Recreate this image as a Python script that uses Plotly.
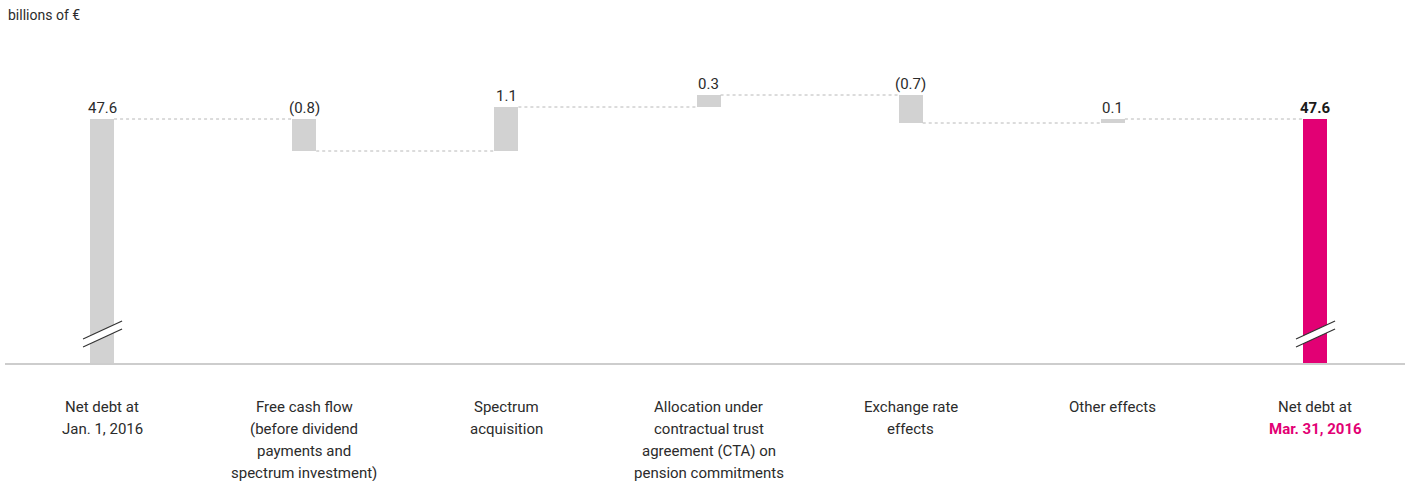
import plotly.graph_objects as go

# --- data -----------------------------------------------------------------
categories = [
    "Net debt at<br>Jan. 1, 2016",
    "Free cash flow<br>(before dividend<br>payments and<br>spectrum investment)",
    "Spectrum<br>acquisition",
    "Allocation under<br>contractual trust<br>agreement (CTA) on<br>pension commitments",
    "Exchange rate<br>effects",
    "Other effects",
    "Net debt at<br><b><span style='color:#e20074'>Mar. 31, 2016</span></b>",
]
values = [47.6, -0.8, 1.1, 0.3, -0.7, 0.1, 47.6]
measures = ["total", "relative", "relative", "relative", "relative", "relative", "total"]
value_labels = ["47.6", "(0.8)", "1.1", "0.3", "(0.7)", "0.1", "<b>47.6</b>"]
unit_label = "billions of €"

# --- styling --------------------------------------------------------------
GREY = "#d2d2d2"
MAGENTA = "#e20074"
TEXT = "#2b2b2b"
FONT = "Roboto"
BAR_W = 0.119
Y_FLOOR, Y_TOP = 41.5, 49.5

# running totals for the floating bars
bases, lows, highs, ends = [], [], [], []
running = 0.0
for v, m in zip(values, measures):
    if m == "total":
        base = 0.0
        running = v
    else:
        base = running
        running = running + v
    bases.append(base)
    lows.append(min(base, base + v))
    highs.append(max(base, base + v))
    ends.append(running)

x = list(range(len(values)))
colors = [MAGENTA if i == len(values) - 1 else GREY for i in x]

fig = go.Figure()
fig.add_trace(go.Bar(
    x=x, y=values, base=bases, width=BAR_W,
    marker=dict(color=colors, line=dict(width=0)),
    hoverinfo="skip", showlegend=False,
))

shapes = []
# dashed connectors between consecutive bars
for i in range(len(values) - 1):
    shapes.append(dict(
        type="line", xref="x", yref="y",
        x0=i + BAR_W / 2, x1=i + 1 - BAR_W / 2, y0=ends[i], y1=ends[i],
        line=dict(color="#b8b8b8", width=1, dash="3px,3px"),
    ))

# axis-break marks on the total bars
for i, m in enumerate(measures):
    if m != "total":
        continue
    xl, xr = i - 0.094, i + 0.099
    y_lo_l, y_lo_r = 41.9, 42.35
    y_hi_l, y_hi_r = 42.1, 42.55
    shapes.append(dict(
        type="path", xref="x", yref="y",
        path=f"M {xl},{y_lo_l} L {xr},{y_lo_r} L {xr},{y_hi_r} L {xl},{y_hi_l} Z",
        fillcolor="white", line=dict(width=0),
    ))
    for (ya, yb) in [(y_lo_l, y_lo_r), (y_hi_l, y_hi_r)]:
        shapes.append(dict(
            type="line", xref="x", yref="y",
            x0=xl, x1=xr, y0=ya, y1=yb,
            line=dict(color="#333333", width=1.2),
        ))

annotations = []
# value labels above each bar
for i, lab in enumerate(value_labels):
    annotations.append(dict(
        x=i, y=highs[i], xref="x", yref="y", text=lab, showarrow=False,
        yanchor="bottom", xanchor="center", yshift=0,
        font=dict(family=FONT, size=15, color="#1a1a1a" if i == len(values) - 1 else TEXT),
    ))

# category labels, one annotation per line for even spacing
for i, cat in enumerate(categories):
    for k, line in enumerate(cat.split("<br>")):
        annotations.append(dict(
            x=i, y=0, xref="x", yref="paper", text=line, showarrow=False,
            yanchor="middle", xanchor="center", yshift=-44 - 22 * k,
            font=dict(family=FONT, size=15, color=TEXT),
        ))

# unit label
annotations.append(dict(
    x=0, y=1, xref="paper", yref="paper", text=unit_label, showarrow=False,
    xanchor="left", yanchor="middle", xshift=1, yshift=28,
    font=dict(family=FONT, size=14, color=TEXT),
))

fig.update_layout(
    width=1410, height=481,
    margin=dict(l=5, r=5, t=43, b=118),
    paper_bgcolor="white", plot_bgcolor="white",
    shapes=shapes, annotations=annotations,
    bargap=0,
    xaxis=dict(
        range=[-0.48, 6.445], showgrid=False, zeroline=False,
        showticklabels=False, ticks="",
        showline=True, linecolor="#cdcdcd", linewidth=2,
    ),
    yaxis=dict(
        range=[Y_FLOOR, Y_TOP], visible=False, showgrid=False, zeroline=False,
    ),
)

fig.write_html("out.html")
